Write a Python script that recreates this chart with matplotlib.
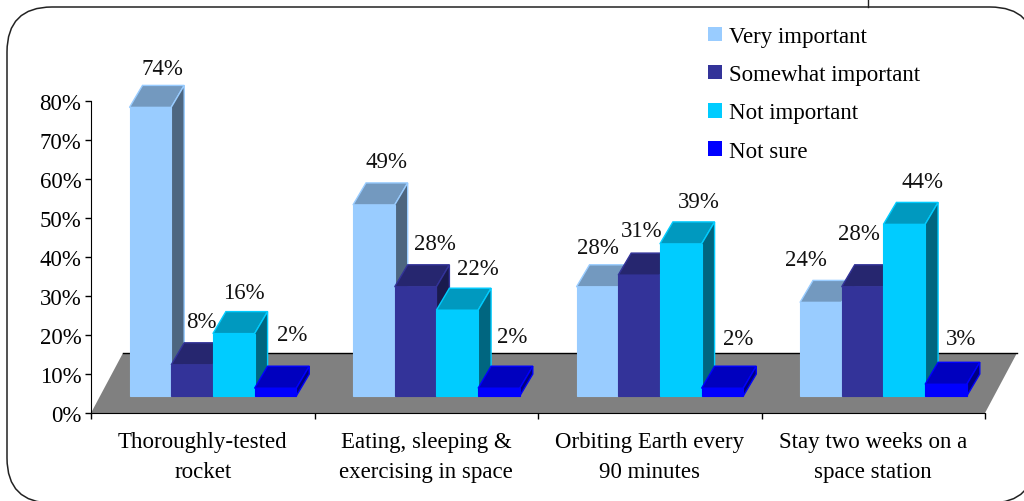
#3d style clustered bars, survey on space travel

import numpy as np
import matplotlib
matplotlib.use("Agg")
import matplotlib.pyplot as plt
from matplotlib.patches import Polygon, Patch, FancyBboxPatch

categories = ["Thoroughly-tested\nrocket", "Eating, sleeping &\nexercising in space",
              "Orbiting Earth every\n90 minutes", "Stay two weeks on a\nspace station"]
series_names = ["Very important", "Somewhat important", "Not important", "Not sure"]
very_important = [74, 49, 28, 24]
somewhat_important = [8, 28, 31, 28]
not_important = [16, 22, 39, 44]
not_sure = [2, 2, 2, 3]
y_ticks = [0, 10, 20, 30, 40, 50, 60, 70, 80]

front_colors = ["#99CCFF", "#333399", "#00CCFF", "#0000FF"]
top_colors = ["#7399BF", "#26266F", "#0099BF", "#0000BF"]
side_colors = ["#4D6680", "#1A1A4D", "#006680", "#000080"]

# label offsets from the front top left corner of each bar, pixels
label_dx = [[33, 30, 31, 38], [33, 40, 41, 34], [21, 23, 39, 37], [6, 17, 39, 36]]
label_dy = [[39, 43, 41, 54], [43, 43, 42, 52], [39, 45, 42, 50], [43, 53, 43, 46]]

W, H = 1024, 502
plt.rcParams["font.family"] = ["Liberation Serif", "DejaVu Serif"]
plt.rcParams["font.size"] = 16.5

fig = plt.figure(figsize=(W/100, H/100), dpi=100)
ax = fig.add_axes([91/W, (H-414)/H, 894/W, 312/H])
ax.set_xlim(0, 4)
ax.set_ylim(0, 80)

px_x = 4/894
px_y = 80/312
bar_w = 41.7*px_x
first_bar = 38.5*px_x
depth_x, depth_y = 13*px_x, 22*px_y
floor_x, floor_y = 32*px_x, 60*px_y
lift = 17*px_y

# rounded frame runs off the right and bottom of the picture
frame = FancyBboxPatch((7, -2), 1028, 496, boxstyle="round,pad=0,rounding_size=45",
                       transform=None, fc="white", ec="#222222", lw=1.1, zorder=-5)
frame.set_transform(fig.dpi_scale_trans.inverted() + fig.dpi_scale_trans)
fig.patches.append(frame)
frame.set_figure(fig)
fig.add_artist(plt.Line2D([868/W, 868/W], [(H-8)/H, 1], color="#222222", lw=1))

floor = Polygon([(0, 0), (4, 0), (4+floor_x, floor_y), (floor_x, floor_y)],
                fc="#808080", ec="none", clip_on=False, zorder=1)
ax.add_patch(floor)
ax.plot([floor_x, 4+floor_x], [floor_y, floor_y], color="black", lw=1, clip_on=False, zorder=1.1)

all_series = [very_important, somewhat_important, not_important, not_sure]
z = 2
for c in range(len(categories)):
    for s, vals in enumerate(all_series):
        v = vals[c]
        x0 = c + first_bar + s*bar_w
        x1 = x0 + bar_w
        y0, y1 = lift, lift + v
        top = Polygon([(x0, y1), (x1, y1), (x1+depth_x, y1+depth_y), (x0+depth_x, y1+depth_y)],
                      fc=top_colors[s], ec=front_colors[s], lw=1, clip_on=False, zorder=z)
        side = Polygon([(x1, y0), (x1+depth_x, y0+depth_y), (x1+depth_x, y1+depth_y), (x1, y1)],
                       fc=side_colors[s], ec=front_colors[s], lw=1, clip_on=False, zorder=z)
        ax.add_patch(top)
        ax.add_patch(side)
        ax.bar(x0, v, width=bar_w, bottom=lift, align="edge", color=front_colors[s],
               edgecolor=front_colors[s], lw=0.8, clip_on=False, zorder=z+0.5)
        ax.annotate(f"{v}%", (x0, y1), xytext=(label_dx[c][s], label_dy[c][s]),
                    textcoords="offset pixels", ha="center", va="center", zorder=50,
                    color="#111111", annotation_clip=False)
        z += 1

ax.set_yticks(y_ticks)
ax.set_yticklabels([f"{t}%" for t in y_ticks])
ax.set_xticks(range(5))
ax.set_xticklabels([])
ax.set_xticks(np.arange(4)+0.5, categories, minor=True, linespacing=1.55)
ax.tick_params(axis="x", which="minor", length=0, pad=13)
ax.tick_params(axis="both", which="major", length=4.5, width=1, color="black")
ax.tick_params(axis="y", pad=2.5)
ax.spines["top"].set_visible(False)
ax.spines["right"].set_visible(False)
ax.patch.set_visible(False)
for sp in ("left", "bottom"):
    ax.spines[sp].set_zorder(100)

handles = [Patch(fc=front_colors[i], ec="none", label=series_names[i]) for i in range(4)]
fig.legend(handles=handles, loc="upper left", bbox_to_anchor=(708/W, (H-27)/H), frameon=False,
           handlelength=0.6, handleheight=0.6, handletextpad=0.3, labelspacing=0.75,
           borderpad=0, borderaxespad=0)

fig.savefig("out.png", dpi=100)
